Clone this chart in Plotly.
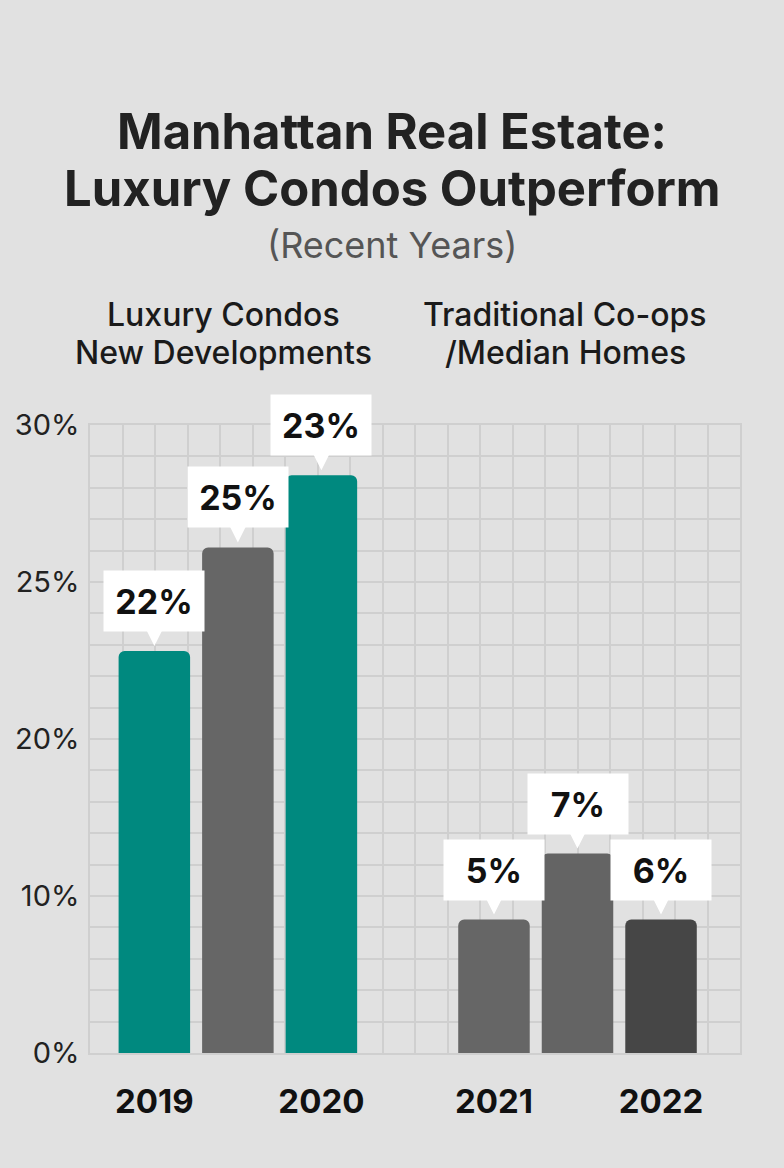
import numpy as np
import plotly.graph_objects as go

# Data
years = ["2019", "", "2020", "2021", "", "2022"]
group_names = [["Luxury Condos", "New Developments"],
               ["Traditional Co-ops", "/Median Homes"]]
growth_pct = [22.8, 26.1, 28.4, 8.5, 12.7, 8.5]
callout_labels = ["22%", "25%", "23%", "5%", "7%", "6%"]
tick_pct = [0, 10, 20, 25, 30]
tick_labels = ["0%", "10%", "20%", "25%", "30%"]

bar_colors = ["#00897f", "#666666", "#00897f", "#666666", "#646464", "#464646"]

# The y axis ticks are evenly spaced but not linear in value,
# so map each value through the tick scale
tick_pos = list(range(len(tick_pct)))
y_pos = np.interp(growth_pct, tick_pct, tick_pos)

# Bar positions on a 20-cell grid: two groups of three
group_centers = [4.55, 15.0]
offsets = [-2.57, 0, 2.57]
x_pos = [c + o for c in group_centers for o in offsets]

FONT = "Inter"
PLOT_LEFT, PLOT_RIGHT = 90, 740
PLOT_TOP, PLOT_BOTTOM = 425, 1053
GRID = "#cfcfcf"


def paper_x(px):
    return (px - PLOT_LEFT) / (PLOT_RIGHT - PLOT_LEFT)


def paper_y(py):
    return (PLOT_BOTTOM - py) / (PLOT_BOTTOM - PLOT_TOP)


def text_note(px, py, text, size, color, weight=400):
    fig.add_annotation(
        x=paper_x(px), y=paper_y(py), xref="paper", yref="paper", text=text,
        showarrow=False, xanchor="center", yanchor="middle",
        font=dict(family=FONT, size=size, color=color, weight=weight),
    )


fig = go.Figure()
fig.add_trace(go.Bar(
    x=x_pos,
    y=y_pos,
    width=2.2,
    marker=dict(color=bar_colors, cornerradius=6, line=dict(width=0)),
    hovertext=callout_labels,
    hoverinfo="text",
))

# Callout boxes above each bar
for x, y, label in zip(x_pos, y_pos, callout_labels):
    fig.add_annotation(
        x=x, y=y, text=f"<b>{label}</b>",
        showarrow=True, arrowhead=2, arrowsize=3, arrowwidth=1.5,
        arrowcolor="white", ax=0, ay=-50, standoff=5,
        bgcolor="white", width=98, height=58,
        font=dict(family=FONT, size=34, color="#111111"),
    )

# Title, subtitle and group headers
text_note(392, 131, "Manhattan Real Estate:", 49, "#222222", 700)
text_note(392, 188, "Luxury Condos Outperform", 49, "#222222", 700)
text_note(392, 245, "(Recent Years)", 36, "#555555")
for cx, lines in zip([223, 565], group_names):
    for py, line in zip([314, 352], lines):
        text_note(cx, py, line, 32, "#1a1a1a", 500)

label_idx = [i for i, y in enumerate(years) if y]

fig.update_layout(
    width=784, height=1168,
    margin=dict(l=PLOT_LEFT, r=784 - PLOT_RIGHT, t=PLOT_TOP, b=1168 - PLOT_BOTTOM),
    paper_bgcolor="#e1e1e1",
    plot_bgcolor="#e1e1e1",
    showlegend=False,
    xaxis=dict(
        range=[0, 20],
        tickmode="array",
        tickvals=[x_pos[i] for i in label_idx],
        ticktext=[f"<b>{years[i]}</b>" for i in label_idx],
        tickfont=dict(family=FONT, size=33, color="#111111"),
        showgrid=False, zeroline=False, ticks="",
        ticklabelstandoff=19,
        showline=True, mirror=True, linecolor=GRID, linewidth=1.5,
        minor=dict(tickmode="linear", tick0=0, dtick=1, showgrid=True,
                   gridcolor=GRID, gridwidth=1.5),
        fixedrange=True,
    ),
    yaxis=dict(
        range=[0, 4],
        tickmode="array",
        tickvals=tick_pos,
        ticktext=tick_labels,
        tickfont=dict(family=FONT, size=29, color="#222222"),
        showgrid=True, gridcolor=GRID, gridwidth=1.5,
        zeroline=False, ticks="", ticklabelstandoff=3,
        showline=True, mirror=True, linecolor=GRID, linewidth=1.5,
        minor=dict(tickmode="linear", tick0=0, dtick=0.2, showgrid=True,
                   gridcolor=GRID, gridwidth=1.5),
        fixedrange=True,
    ),
)

fig.write_html("out.html", config={"displayModeBar": False},
               post_script="document.body.style.margin='0';")
